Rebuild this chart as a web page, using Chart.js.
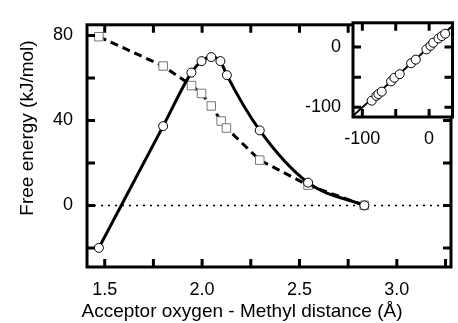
<!DOCTYPE html>
<html>
<head>
<meta charset="utf-8">
<script src="https://cdn.jsdelivr.net/npm/chart.js@4"></script>
<style>
  body { margin: 0; background: #fff; }
  #wrap { position: relative; width: 458px; height: 323px; }
  #main { position: absolute; left: 0; top: 0; }
  #inset { position: absolute; left: 290px; top: 0; }
</style>
</head>
<body>
<div id="wrap">
  <canvas id="main" width="458" height="323"></canvas>
  <canvas id="inset" width="168" height="150"></canvas>
</div>
<script>
// main panel: free energy vs distance
const circleX = [1.47, 1.80, 1.945, 1.997, 2.047, 2.094, 2.127, 2.296, 2.544, 2.833];
const circleY = [-20, 37.3, 62.5, 67.9, 69.8, 67.9, 61.3, 35.3, 10.7, 0];
const squareX = [1.47, 1.80, 1.946, 1.997, 2.047, 2.098, 2.125, 2.296, 2.544, 2.833];
const squareY = [79.4, 65.6, 56.4, 52.7, 46.8, 39.7, 36.4, 21.3, 9.5, 0];
const xTicks = [1.5, 1.75, 2.0, 2.25, 2.5, 2.75, 3.0, 3.25];
const xLabels = [1.5, 2.0, 2.5, 3.0];
const yTicks = [-20, 0, 20, 40, 60, 80];
const yLabels = [0, 40, 80];

// inset: correlation plot
const insetX = [-86, -79, -76, -71, -57, -52, -44, -27, -20, -4, 2, 6, 14, 19, 24];
const insetY = [-89, -81, -78, -74, -57, -51, -45, -27, -21, -4, 2, 7, 14, 18, 22];
const insetTicks = [-100, -50, 0];
const insetLabels = [-100, 0];

const FAMILY = "'Liberation Sans', Arial, Helvetica, sans-serif";
const FONT = { family: FAMILY, size: 18 };
const TICK_LEN = 8;

// box frame with inward ticks on all four sides, plus axis titles
const framePlugin = {
  id: 'frame',
  beforeDatasetsDraw(chart, args, opts) {
    if (!opts.fill) return;
    const a = chart.chartArea;
    chart.ctx.save();
    chart.ctx.fillStyle = '#fff';
    chart.ctx.fillRect(a.left, a.top, a.right - a.left, a.bottom - a.top);
    chart.ctx.restore();
  },
  afterDatasetsDraw(chart, args, opts) {
    const { ctx, chartArea: a, scales } = chart;
    ctx.save();
    ctx.strokeStyle = '#000';
    ctx.lineWidth = 3;
    ctx.beginPath();
    scales.x.ticks.forEach(t => {
      const px = scales.x.getPixelForValue(t.value);
      ctx.moveTo(px, a.bottom); ctx.lineTo(px, a.bottom - TICK_LEN);
      ctx.moveTo(px, a.top); ctx.lineTo(px, a.top + TICK_LEN);
    });
    scales.y.ticks.forEach(t => {
      const py = scales.y.getPixelForValue(t.value);
      ctx.moveTo(a.left, py); ctx.lineTo(a.left + TICK_LEN, py);
      ctx.moveTo(a.right, py); ctx.lineTo(a.right - TICK_LEN, py);
    });
    ctx.stroke();
    ctx.strokeRect(a.left, a.top, a.right - a.left, a.bottom - a.top);

    // axis titles
    (opts.titles || []).forEach(t => {
      ctx.save();
      ctx.fillStyle = '#000';
      ctx.font = '19px ' + FAMILY;
      ctx.textAlign = 'center';
      ctx.textBaseline = 'alphabetic';
      ctx.translate(t.x, t.y);
      if (t.rotate) ctx.rotate(-Math.PI / 2);
      ctx.fillText(t.text, 0, 0);
      ctx.restore();
    });
    ctx.restore();
  }
};

new Chart(document.getElementById('main'), {
  type: 'scatter',
  plugins: [framePlugin],
  data: {
    datasets: [
      {
        // free energy, solid curve with circles
        data: circleX.map((x, i) => ({ x: x, y: circleY[i] })),
        showLine: true,
        borderColor: '#000',
        borderWidth: 3,
        cubicInterpolationMode: 'monotone',
        pointStyle: 'circle',
        pointRadius: 4.5,
        pointBorderWidth: 1,
        pointBorderColor: '#000',
        pointBackgroundColor: '#fff',
        order: 1
      },
      {
        // dashed curve with squares
        data: squareX.map((x, i) => ({ x: x, y: squareY[i] })),
        showLine: true,
        borderColor: '#000',
        borderWidth: 3,
        borderDash: [8, 5],
        tension: 0,
        pointStyle: 'rect',
        pointRadius: 6,
        pointBorderWidth: 1,
        pointBorderColor: '#777',
        pointBackgroundColor: '#fff',
        order: 2
      },
      {
        // zero reference
        data: [{ x: 1.409, y: 0 }, { x: 3.278, y: 0 }],
        showLine: true,
        borderColor: '#000',
        borderWidth: 1.5,
        borderDash: [2, 5],
        pointRadius: 0,
        order: 3
      }
    ]
  },
  options: {
    responsive: false,
    animation: false,
    layout: { padding: { left: 0, top: 11, right: 2, bottom: 0 } },
    plugins: {
      legend: { display: false },
      tooltip: { enabled: false },
      frame: {
        fill: false,
        titles: [
          { text: 'Acceptor oxygen - Methyl distance (Å)', x: 242, y: 317 },
          { text: 'Free energy (kJ/mol)', x: 33, y: 128, rotate: true }
        ]
      }
    },
    scales: {
      x: {
        type: 'linear',
        min: 1.409,
        max: 3.278,
        afterBuildTicks: s => { s.ticks = xTicks.map(v => ({ value: v })); },
        afterFit: s => { s.height = 56; },
        grid: { display: false, drawTicks: false },
        border: { display: false },
        ticks: {
          color: '#000',
          font: FONT,
          padding: 12,
          maxRotation: 0,
          autoSkip: false,
          callback: v => xLabels.includes(v) ? v.toFixed(1) : ''
        }
      },
      y: {
        type: 'linear',
        min: -29,
        max: 85,
        afterBuildTicks: s => { s.ticks = yTicks.map(v => ({ value: v })); },
        afterFit: s => { s.width = 87; },
        grid: { display: false, drawTicks: false },
        border: { display: false },
        ticks: {
          color: '#000',
          font: FONT,
          padding: 14,
          autoSkip: false,
          callback: v => yLabels.includes(v) ? String(v) : ''
        }
      }
    }
  }
});

new Chart(document.getElementById('inset'), {
  type: 'scatter',
  plugins: [framePlugin],
  data: {
    datasets: [
      {
        data: insetX.map((x, i) => ({ x: x, y: insetY[i] })),
        pointStyle: 'circle',
        pointRadius: 4.5,
        pointBorderWidth: 1,
        pointBorderColor: '#000',
        pointBackgroundColor: '#fff',
        order: 1
      },
      {
        // y = x
        data: [{ x: -120, y: -120 }, { x: 40, y: 40 }],
        showLine: true,
        borderColor: '#000',
        borderWidth: 2,
        pointRadius: 0,
        order: 2
      }
    ]
  },
  options: {
    responsive: false,
    animation: false,
    layout: { padding: { left: 0, top: 11, right: 2, bottom: 0 } },
    plugins: { legend: { display: false }, tooltip: { enabled: false }, frame: { fill: true } },
    scales: {
      x: {
        type: 'linear',
        min: -114,
        max: 35,
        afterBuildTicks: s => { s.ticks = insetTicks.map(v => ({ value: v })); },
        afterFit: s => { s.height = 33; },
        grid: { display: false, drawTicks: false },
        border: { display: false },
        ticks: {
          color: '#000',
          font: FONT,
          padding: 11,
          maxRotation: 0,
          autoSkip: false,
          callback: v => insetLabels.includes(v) ? String(v) : ''
        }
      },
      y: {
        type: 'linear',
        min: -116,
        max: 40,
        afterBuildTicks: s => { s.ticks = insetTicks.map(v => ({ value: v })); },
        afterFit: s => { s.width = 63; },
        grid: { display: false, drawTicks: false },
        border: { display: false },
        ticks: {
          color: '#000',
          font: FONT,
          padding: 12,
          autoSkip: false,
          callback: v => insetLabels.includes(v) ? String(v) : ''
        }
      }
    }
  }
});
</script>
</body>
</html>
